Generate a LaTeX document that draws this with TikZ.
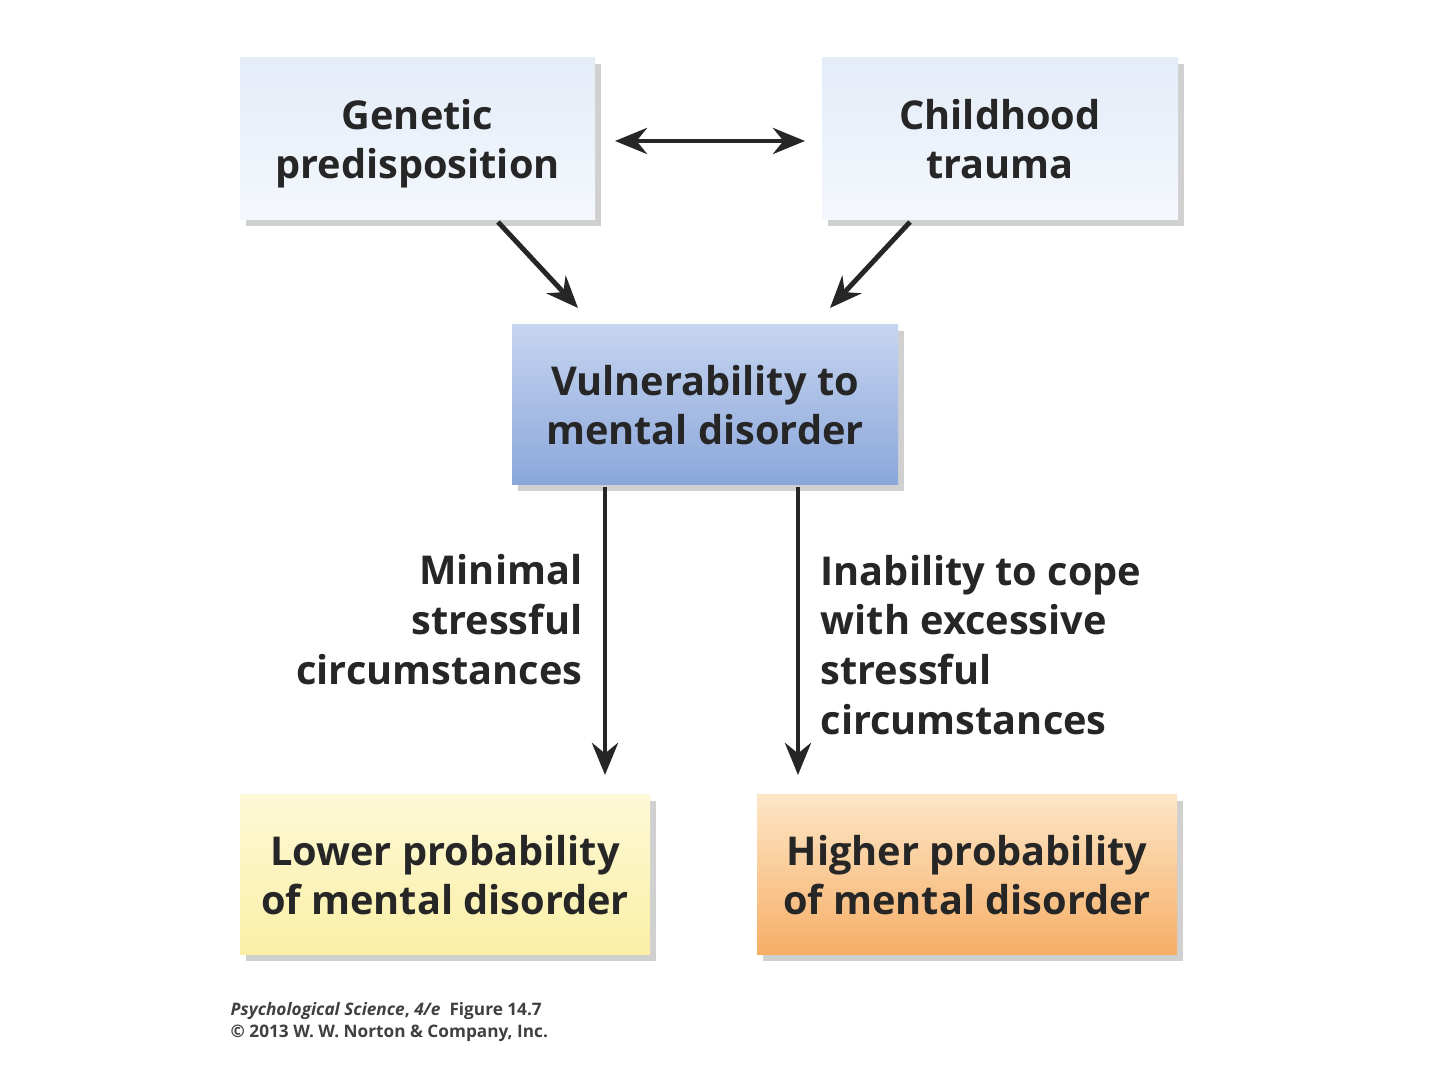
\documentclass[tikz,border=0pt]{standalone}
\usepackage{fontspec}
\setmainfont{Open Sans}
\usetikzlibrary{shadows,arrows.meta}
\definecolor{lbtop}{HTML}{E4ECF8}\definecolor{lbbot}{HTML}{F4F8FD}
\definecolor{vtop}{HTML}{C6D5F0}\definecolor{vbot}{HTML}{8AA6DA}
\definecolor{ytop}{HTML}{FDF9D6}\definecolor{ybot}{HTML}{FBEFA6}
\definecolor{otop}{HTML}{FDE6C6}\definecolor{obot}{HTML}{F6AE66}
\newcommand{\tstrut}{\rule{0pt}{12.8pt}}
\tikzset{
 box/.style={inner sep=0pt,align=center,font=\fontsize{11.3}{14.2}\selectfont\bfseries,text=black!85,
   drop shadow={shadow xshift=0.06,shadow yshift=-0.06,opacity=0.3,fill=black!60}},
 arr/.style={-{Stealth[length=3.2mm,width=2.6mm]},line width=1.4pt,black!85},
 lab/.style={font=\fontsize{11.3}{14.2}\selectfont\bfseries,text=black!85,inner sep=0pt}
}
\begin{document}
\begin{tikzpicture}
\useasboundingbox[fill=white] (0,0) rectangle (14.4,10.8);
\node[box,minimum width=3.55cm,minimum height=1.62cm,top color=lbtop,bottom color=lbbot] (gen) at (4.175,9.41) {\tstrut Genetic\\\strut predisposition};
\node[box,minimum width=3.56cm,minimum height=1.62cm,top color=lbtop,bottom color=lbbot] (chi) at (10.0,9.41) {\tstrut Childhood\\\strut trauma};
\node[box,minimum width=3.86cm,minimum height=1.6cm,top color=vtop,bottom color=vbot] (vul) at (7.05,6.75) {\tstrut Vulnerability to\\\strut mental disorder};
\node[box,minimum width=4.1cm,minimum height=1.6cm,top color=ytop,bottom color=ybot] (low) at (4.45,2.05) {\tstrut Lower probability\\\strut of mental disorder};
\node[box,minimum width=4.2cm,minimum height=1.6cm,top color=otop,bottom color=obot] (hig) at (9.67,2.05) {\tstrut Higher probability\\\strut of mental disorder};
\coordinate (d1) at (6.15,9.39); \coordinate (d2) at (8.05,9.39);
\draw[{Stealth[length=3.2mm,width=2.6mm]}-{Stealth[length=3.2mm,width=2.6mm]},line width=1.4pt,black!85] (d1) -- (d2);
\coordinate (g1) at (4.98,8.58); \coordinate (g2) at (5.78,7.72);
\coordinate (c1) at (9.10,8.58); \coordinate (c2) at (8.30,7.72);
\draw[arr] (g1) -- (g2);
\draw[arr] (c1) -- (c2);
\coordinate (l1) at (6.05,5.93); \coordinate (l2) at (6.05,3.05);
\coordinate (r1) at (7.98,5.93); \coordinate (r2) at (7.98,3.05);
\draw[arr] (l1) -- (l2);
\draw[arr] (r1) -- (r2);
\node[lab,align=right,anchor=east] (ml) at (5.83,4.6) {Minimal\\stressful\\circumstances};
\node[lab,align=left,anchor=west] (il) at (8.20,4.35) {Inability to cope\\with excessive\\stressful\\circumstances};
\node[anchor=north west,align=left,inner sep=0pt,font=\fontsize{4.9}{6.3}\selectfont\bfseries,text=black!75] (cap) at (2.30,0.78) {\textit{Psychological Science}, \textit{4/e}\ \ Figure 14.7\\© 2013 W. W. Norton \& Company, Inc.};
\end{tikzpicture}
\end{document}
